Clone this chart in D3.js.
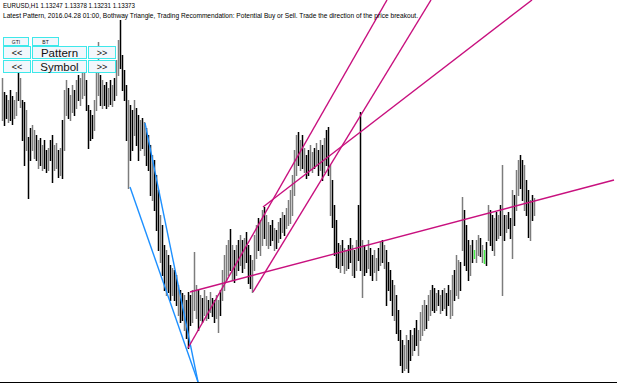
<!DOCTYPE html>
<html>
<head>
<meta charset="utf-8">
<script src="https://cdn.jsdelivr.net/npm/d3@7"></script>
<style>
  body { margin: 0; background: #fff; }
  svg { display: block; font-family: "Liberation Sans", Arial, sans-serif; }
</style>
</head>
<body>
<div id="chart"></div>
<script>
// EURUSD H1 bars (high / low), one per hour
var highs = [
  1.1422,1.1408,1.1405,1.1400,1.1410,1.1404,1.1400,1.1408,1.1427,1.1422,
  1.1400,1.1398,1.1390,1.1363,1.1372,1.1375,1.1370,1.1365,1.1360,1.1362,
  1.1355,1.1360,1.1350,1.1352,1.1360,1.1365,1.1355,1.1357,1.1350,1.1352,
  1.1380,1.1410,1.1420,1.1412,1.1405,1.1415,1.1410,1.1420,1.1425,1.1422,
  1.1430,1.1440,1.1420,1.1395,1.1390,1.1385,1.1400,1.1427,1.1458,1.1425,
  1.1420,1.1415,1.1418,1.1412,1.1420,1.1415,1.1422,1.1440,1.1460,1.1480,
  1.1445,1.1430,1.1415,1.1400,1.1395,1.1390,1.1400,1.1392,1.1385,1.1380,
  1.1382,1.1378,1.1372,1.1365,1.1355,1.1345,1.1340,1.1325,1.1310,1.1285,
  1.1275,1.1255,1.1250,1.1245,1.1235,1.1232,1.1230,1.1225,1.1215,1.1210,
  1.1207,1.1205,1.1200,1.1208,1.1205,1.1210,1.1248,1.1215,1.1210,1.1205,
  1.1202,1.1210,1.1204,1.1200,1.1208,1.1202,1.1200,1.1205,1.1200,1.1210,
  1.1230,1.1245,1.1255,1.1260,1.1271,1.1255,1.1250,1.1255,1.1260,1.1265,
  1.1260,1.1262,1.1268,1.1255,1.1245,1.1240,1.1265,1.1275,1.1282,1.1280,
  1.1290,1.1293,1.1285,1.1278,1.1275,1.1280,1.1272,1.1270,1.1278,1.1282,
  1.1288,1.1285,1.1292,1.1300,1.1310,1.1325,1.1350,1.1365,1.1368,1.1360,
  1.1365,1.1352,1.1345,1.1350,1.1355,1.1348,1.1352,1.1357,1.1350,1.1360,
  1.1355,1.1362,1.1370,1.1373,1.1335,1.1320,1.1295,1.1280,1.1257,1.1255,
  1.1260,1.1252,1.1250,1.1255,1.1262,1.1255,1.1250,1.1260,1.1295,1.1388,
  1.1260,1.1255,1.1250,1.1260,1.1252,1.1245,1.1250,1.1242,1.1252,1.1258,
  1.1260,1.1255,1.1250,1.1238,1.1230,1.1220,1.1215,1.1205,1.1190,1.1170,
  1.1160,1.1155,1.1165,1.1160,1.1170,1.1165,1.1172,1.1180,1.1170,1.1188,
  1.1195,1.1200,1.1195,1.1205,1.1210,1.1215,1.1212,1.1207,1.1210,1.1205,
  1.1210,1.1212,1.1207,1.1215,1.1210,1.1225,1.1230,1.1245,1.1240,1.1238,
  1.1303,1.1290,1.1275,1.1260,1.1255,1.1260,1.1250,1.1260,1.1265,1.1262,
  1.1255,1.1250,1.1258,1.1295,1.1290,1.1285,1.1282,1.1288,1.1285,1.1295,
  1.1335,1.1285,1.1285,1.1288,1.1282,1.1310,1.1305,1.1330,1.1340,1.1345,
  1.1340,1.1335,1.1320,1.1310,1.1300,1.1305,1.1302
];
var lows = [
  1.1380,1.1375,1.1382,1.1378,1.1380,1.1376,1.1382,1.1385,1.1400,1.1393,
  1.1360,1.1335,1.1350,1.1302,1.1340,1.1350,1.1342,1.1340,1.1332,1.1335,
  1.1330,1.1332,1.1328,1.1330,1.1340,1.1318,1.1330,1.1332,1.1323,1.1325,
  1.1322,1.1350,1.1385,1.1382,1.1380,1.1388,1.1385,1.1392,1.1400,1.1395,
  1.1402,1.1405,1.1390,1.1352,1.1360,1.1362,1.1370,1.1390,1.1405,1.1395,
  1.1392,1.1395,1.1392,1.1394,1.1396,1.1394,1.1400,1.1405,1.1425,1.1432,
  1.1410,1.1400,1.1360,1.1312,1.1340,1.1350,1.1365,1.1355,1.1340,1.1350,
  1.1352,1.1345,1.1335,1.1330,1.1305,1.1300,1.1290,1.1270,1.1250,1.1238,
  1.1225,1.1210,1.1205,1.1208,1.1200,1.1205,1.1200,1.1195,1.1185,1.1178,
  1.1180,1.1170,1.1162,1.1152,1.1175,1.1178,1.1190,1.1182,1.1170,1.1180,
  1.1178,1.1185,1.1180,1.1182,1.1188,1.1184,1.1178,1.1182,1.1168,1.1185,
  1.1200,1.1210,1.1220,1.1225,1.1230,1.1220,1.1218,1.1225,1.1230,1.1235,
  1.1228,1.1232,1.1238,1.1217,1.1212,1.1208,1.1230,1.1242,1.1250,1.1245,
  1.1255,1.1262,1.1255,1.1252,1.1255,1.1260,1.1250,1.1252,1.1258,1.1262,
  1.1268,1.1265,1.1272,1.1275,1.1277,1.1285,1.1305,1.1325,1.1335,1.1330,
  1.1332,1.1328,1.1322,1.1325,1.1330,1.1328,1.1332,1.1335,1.1325,1.1330,
  1.1320,1.1328,1.1335,1.1325,1.1285,1.1273,1.1245,1.1233,1.1232,1.1228,
  1.1235,1.1227,1.1230,1.1232,1.1238,1.1225,1.1223,1.1230,1.1240,1.1230,
  1.1203,1.1225,1.1228,1.1232,1.1225,1.1220,1.1228,1.1220,1.1230,1.1235,
  1.1238,1.1232,1.1195,1.1210,1.1200,1.1185,1.1180,1.1167,1.1160,1.1135,
  1.1128,1.1130,1.1132,1.1128,1.1140,1.1145,1.1150,1.1155,1.1145,1.1160,
  1.1165,1.1170,1.1172,1.1180,1.1185,1.1190,1.1188,1.1190,1.1195,1.1187,
  1.1190,1.1192,1.1185,1.1195,1.1182,1.1185,1.1200,1.1205,1.1202,1.1210,
  1.1250,1.1235,1.1230,1.1220,1.1225,1.1238,1.1242,1.1238,1.1245,1.1244,
  1.1238,1.1237,1.1235,1.1260,1.1255,1.1250,1.1245,1.1260,1.1262,1.1265,
  1.1205,1.1260,1.1268,1.1272,1.1262,1.1242,1.1275,1.1290,1.1305,1.1312,
  1.1300,1.1290,1.1285,1.1263,1.1260,1.1280,1.1285
];
// bar colour: d = down (black), u = up (gray), g = highlighted (green)
var dirs = (
  "uddudduudu" + "ddudduudud" + "uddudduudu" + "duuduududu" + "uudddduuud" +
  "uddududuud" + "dddudduddu" + "dudddudddu" + "ddudduddud" + "duddduuudu" +
  "duududduud" + "uuuudududu" + "duddduuudu" + "uduuddudud" + "uduuuuuudu" +
  "dudduududu" + "dudduddddu" + "duuddududd" + "uddudduudu" + "dudddduddd" +
  "duuddudduu" + "uuduuddudu" + "dudduuduud" + "udddudguud" + "ugduddudud" +
  "ududduduud" + "duddudu"
).split("");

// trend lines: [bar index, price] end points
var wedgeLines = [
  [[64, 1.1313], [98, 1.1118]],
  [[71.5, 1.1377], [98, 1.1118]]
];
var triangleLines = [
  [[93, 1.1152], [192.5, 1.1500]],
  [[125.5, 1.1208], [214.5, 1.1500]],
  [[130.5, 1.1293], [265, 1.1500]],
  [[94, 1.1208], [306, 1.1320]]
];

var headerLine = "EURUSD,H1  1.13247 1.13378 1.13231 1.13373";
var patternLine = "Latest Pattern, 2016.04.28 01:00, Bothway Triangle, Trading Recommendation: Potential Buy or Sell. Trade the direction of the price breakout.";

var width = 625, height = 387, bottom = 382;

var svg = d3.select("#chart")
  .append("svg")
    .attr("width", width)
    .attr("height", height);

var x = d3.scaleLinear().domain([0, highs.length - 1]).range([2, 534]);
var y = d3.scaleLinear().domain([1.1500, 1.1118]).range([0, bottom]);

svg.append("clipPath").attr("id", "plot")
  .append("rect").attr("x", 0).attr("y", 0).attr("width", width).attr("height", bottom);

// bars
var colors = { u: "#7c7c7c", d: "#000000", g: "#44ee44" };
svg.append("g")
  .selectAll("line")
  .data(highs)
  .enter()
  .append("line")
    .attr("x1", function(d, i) { return x(i) + 0.5; })
    .attr("x2", function(d, i) { return x(i) + 0.5; })
    .attr("y1", function(d) { return y(d); })
    .attr("y2", function(d, i) { return y(lows[i]) + 1; })
    .attr("stroke", function(d, i) { return colors[dirs[i]] || colors.u; })
    .attr("stroke-width", 1.5);

// wedge + triangle lines
var lineGen = d3.line()
  .x(function(d) { return x(d[0]); })
  .y(function(d) { return y(d[1]); });

var lines = svg.append("g").attr("clip-path", "url(#plot)");
lines.selectAll(".wedge")
  .data(wedgeLines)
  .enter()
  .append("path")
    .attr("class", "wedge")
    .attr("d", lineGen)
    .attr("fill", "none")
    .attr("stroke", "#1e90ff")
    .attr("stroke-width", 1.4);
lines.selectAll(".tri")
  .data(triangleLines)
  .enter()
  .append("path")
    .attr("class", "tri")
    .attr("d", lineGen)
    .attr("fill", "none")
    .attr("stroke", "#c8107e")
    .attr("stroke-width", 1.4);

// bottom border
svg.append("line")
  .attr("x1", 0).attr("x2", 617)
  .attr("y1", bottom + 0.5).attr("y2", bottom + 0.5)
  .attr("stroke", "#000")
  .attr("stroke-width", 1.2);

// header texts
svg.append("text")
  .attr("x", 3).attr("y", 8)
  .attr("font-size", 7.5)
  .attr("textLength", 132).attr("lengthAdjust", "spacingAndGlyphs")
  .text(headerLine);
svg.append("text")
  .attr("x", 3).attr("y", 18)
  .attr("font-size", 7.5)
  .attr("textLength", 415).attr("lengthAdjust", "spacingAndGlyphs")
  .text(patternLine);

// buttons
var buttons = [
  { label: "GTI", x: 3, y: 37, w: 25, h: 8, size: 5 },
  { label: "BT", x: 32, y: 37, w: 26, h: 8, size: 5 },
  { label: "<<", x: 3, y: 46, w: 27, h: 12, size: 9 },
  { label: "Pattern", x: 32, y: 46, w: 54, h: 12, size: 11.5 },
  { label: ">>", x: 88, y: 46, w: 27, h: 12, size: 9 },
  { label: "<<", x: 3, y: 60, w: 27, h: 12, size: 9 },
  { label: "Symbol", x: 32, y: 60, w: 54, h: 12, size: 11.5 },
  { label: ">>", x: 88, y: 60, w: 27, h: 12, size: 9 }
];
var btn = svg.append("g").selectAll("g")
  .data(buttons)
  .enter()
  .append("g");
btn.append("rect")
  .attr("x", function(d) { return d.x + 0.5; })
  .attr("y", function(d) { return d.y + 0.5; })
  .attr("width", function(d) { return d.w; })
  .attr("height", function(d) { return d.h; })
  .attr("fill", "#f2f7fc")
  .attr("stroke", "#3ee8ea")
  .attr("stroke-width", 1);
btn.append("text")
  .attr("x", function(d) { return d.x + d.w / 2 + 0.5; })
  .attr("y", function(d) { return d.y + d.h / 2 + 0.5; })
  .attr("text-anchor", "middle")
  .attr("dominant-baseline", "central")
  .attr("font-size", function(d) { return d.size; })
  .attr("fill", "#111")
  .text(function(d) { return d.label; });
</script>
</body>
</html>
